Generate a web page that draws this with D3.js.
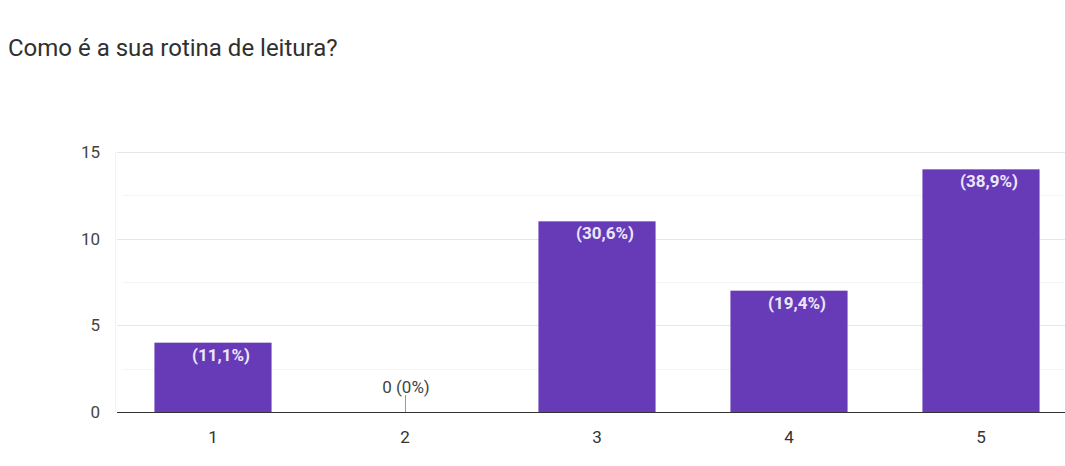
<!DOCTYPE html>
<html>
<head>
<meta charset="utf-8">
<script src="https://cdnjs.cloudflare.com/ajax/libs/d3/7.8.5/d3.min.js"></script>
<style>
  body { margin: 0; background: #fff; }
  svg { font-family: Roboto, Arial, sans-serif; }
</style>
</head>
<body>
<div id="chart"></div>
<script>
// data
var title = 'Como é a sua rotina de leitura?';
var categories = ['1', '2', '3', '4', '5'];
var counts = [4, 0, 11, 7, 14];
var percents = ['11,1%', '0%', '30,6%', '19,4%', '38,9%'];
var yTicks = [0, 5, 10, 15];
var yMinor = [2.5, 7.5, 12.5];

var W = 1065, H = 466;
var margin = { top: 152, right: 0, bottom: 54, left: 117 };

var svg = d3.select('#chart').append('svg')
  .attr('width', W)
  .attr('height', H);

svg.append('text')
  .attr('x', 8)
  .attr('y', 56)
  .style('font-size', '24px')
  .style('fill', '#303030')
  .text(title);

var x = d3.scaleBand()
  .domain(categories)
  .range([margin.left, margin.left + 192 * categories.length])
  .paddingInner(0.39)
  .paddingOuter(0.195);

var y = d3.scaleLinear()
  .domain([0, 15])
  .range([H - margin.bottom, margin.top]);

// minor grid
svg.selectAll('.minor').data(yMinor)
  .enter().append('line')
    .attr('class', 'minor')
    .attr('x1', margin.left + 6).attr('x2', W)
    .attr('y1', function(d) { return Math.round(y(d)) + 0.5; })
    .attr('y2', function(d) { return Math.round(y(d)) + 0.5; })
    .style('stroke', '#f4f4f4');

// major grid
svg.selectAll('.major').data(yTicks.slice(1))
  .enter().append('line')
    .attr('class', 'major')
    .attr('x1', margin.left).attr('x2', W)
    .attr('y1', function(d) { return Math.round(y(d)) + 0.5; })
    .attr('y2', function(d) { return Math.round(y(d)) + 0.5; })
    .style('stroke', '#e6e6e6');

svg.append('line')
  .attr('x1', margin.left - 1.5).attr('x2', margin.left - 1.5)
  .attr('y1', y(15)).attr('y2', y(0))
  .style('stroke', '#f2f2f2');

// y labels
svg.selectAll('.ylab').data(yTicks)
  .enter().append('text')
    .attr('class', 'ylab')
    .attr('x', 100)
    .attr('y', function(d) { return y(d) + 6; })
    .attr('text-anchor', 'end')
    .style('font-size', '17px')
    .style('fill', '#444')
    .text(String);

// bars
svg.selectAll('.bar').data(counts)
  .enter().append('rect')
    .attr('class', 'bar')
    .attr('x', function(d, i) { return x(categories[i]); })
    .attr('y', function(d) { return y(d); })
    .attr('width', x.bandwidth())
    .attr('height', function(d) { return y(0) - y(d); })
    .style('fill', '#673ab7');

// baseline
svg.append('line')
  .attr('x1', margin.left).attr('x2', W)
  .attr('y1', y(0) + 0.5).attr('y2', y(0) + 0.5)
  .style('stroke', '#333');

// value labels
counts.forEach(function(d, i) {
  var cx = x(categories[i]) + x.bandwidth() / 2;
  if (d === 0) {
    svg.append('line')
      .attr('x1', cx + 0.5).attr('x2', cx + 0.5)
      .attr('y1', y(0) - 17).attr('y2', y(0))
      .style('stroke', '#999');
    svg.append('text')
      .attr('x', cx + 1)
      .attr('y', y(0) - 19)
      .attr('text-anchor', 'middle')
      .style('font-size', '17px')
      .style('fill', '#444')
      .text(d + ' (' + percents[i] + ')');
  } else {
    svg.append('text')
      .attr('x', cx + 8)
      .attr('y', y(d) + 18)
      .attr('text-anchor', 'middle')
      .style('font-size', '17px')
      .style('font-weight', 'bold')
      .style('fill', '#ece6f7')
      .text('(' + percents[i] + ')');
  }
});

// x labels
svg.selectAll('.xlab').data(categories)
  .enter().append('text')
    .attr('class', 'xlab')
    .attr('x', function(d) { return x(d) + x.bandwidth() / 2; })
    .attr('y', y(0) + 31)
    .attr('text-anchor', 'middle')
    .style('font-size', '17px')
    .style('fill', '#333')
    .text(String);
</script>
</body>
</html>
